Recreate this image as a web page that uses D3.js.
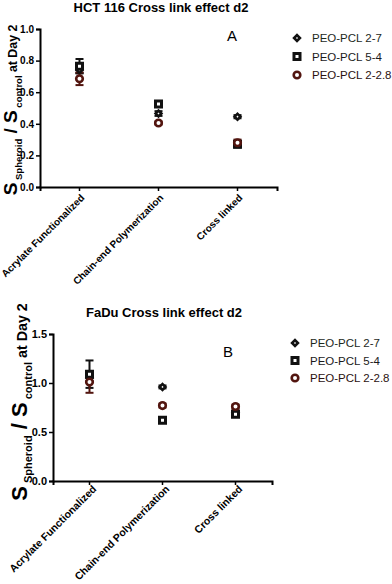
<!DOCTYPE html>
<html>
<head>
<meta charset="utf-8">
<script src="https://cdn.jsdelivr.net/npm/d3@7"></script>
<style>
  body { margin: 0; background: #fff; }
  svg { display: block; font-family: "Liberation Sans", Arial, sans-serif; }
</style>
</head>
<body>
<svg id="chart" width="392" height="584"></svg>
<script>
const categories = ["Acrylate Functionalized", "Chain-end Polymerization", "Cross linked"];
const seriesNames = ["PEO-PCL 2-7", "PEO-PCL 5-4", "PEO-PCL 2-2.8"];

// HCT 116 (panel A) - mean and error
const hct27 = [0.74, 0.465, 0.445];
const hct27Err = [0.02, 0.015, 0.01];
const hct54 = [0.765, 0.525, 0.27];
const hct54Err = [0.045, 0.01, 0.02];
const hct228 = [0.685, 0.405, 0.28];
const hct228Err = [0.04, 0.01, 0.02];
const hctTicks = [0, 0.2, 0.4, 0.6, 0.8, 1.0];

// FaDu (panel B) - mean and error
const fadu27 = [1.05, 0.96, 0.70];
const fadu27Err = [0.03, 0.015, 0.02];
const fadu54 = [1.09, 0.62, 0.68];
const fadu54Err = [0.14, 0.02, 0.02];
const fadu228 = [1.01, 0.77, 0.76];
const fadu228Err = [0.11, 0.02, 0.02];
const faduTicks = [0, 0.5, 1.0, 1.5];

const seriesColors = ["#111", "#111", "#52150f"];
const legendColors = ["#1c281c", "#1a1a1a", "#2b1210"];

const svg = d3.select("#chart");

function marker(g, kind, x, y) {
  if (kind === 0) {
    g.append("path")
      .attr("d", d3.symbol(d3.symbolSquare, 17)())
      .attr("transform", `translate(${x},${y}) rotate(45)`)
      .attr("fill", "#fff").attr("stroke", seriesColors[0]).attr("stroke-width", 2.6);
  } else if (kind === 1) {
    g.append("path")
      .attr("d", d3.symbol(d3.symbolSquare, 36)())
      .attr("transform", `translate(${x},${y})`)
      .attr("fill", "#fff").attr("stroke", seriesColors[1]).attr("stroke-width", 3);
  } else {
    g.append("circle")
      .attr("cx", x).attr("cy", y).attr("r", 3.3)
      .attr("fill", "#fff").attr("stroke", seriesColors[2]).attr("stroke-width", 2.6);
  }
}

function drawPanel(p) {
  const x = d3.scaleBand().domain(categories).range([p.left, p.right]).padding(0);
  const y = d3.scaleLinear().domain([0, p.yMax]).range([p.bottom, p.top]);

  // title
  svg.append("text")
    .attr("x", p.titleX).attr("y", p.titleY)
    .attr("text-anchor", "middle")
    .attr("font-weight", "bold").attr("font-size", 13)
    .text(p.title);

  // axes
  const yAxis = svg.append("g")
    .attr("transform", `translate(${p.left},0)`)
    .call(d3.axisLeft(y).tickValues(p.ticks).tickFormat(d3.format(".1f"))
      .tickSizeOuter(0).tickSize(4).tickPadding(2));
  yAxis.select(".domain").attr("stroke-width", 2);
  yAxis.selectAll(".tick line").attr("stroke-width", 1.5);
  yAxis.selectAll(".tick text")
    .attr("font-family", "Liberation Sans, Arial, sans-serif")
    .attr("font-weight", "bold").attr("font-size", p.tickFont).attr("fill", "#000");

  const xAxis = svg.append("g")
    .attr("transform", `translate(0,${p.bottom})`)
    .call(d3.axisBottom(x).tickSizeOuter(0).tickSize(4));
  xAxis.select(".domain").attr("stroke-width", 2);
  xAxis.selectAll(".tick line").attr("stroke-width", 1.5);
  xAxis.selectAll(".tick text")
    .attr("font-family", "Liberation Sans, Arial, sans-serif")
    .attr("font-weight", "bold").attr("font-size", p.catFont).attr("fill", "#000")
    .attr("text-anchor", "end")
    .attr("x", 0).attr("y", 0).attr("dy", "0.35em")
    .attr("transform", `translate(${p.catDx},${p.catDy}) rotate(-45)`);

  // y label
  const s = p.labelScale;
  const lab = svg.append("text")
    .attr("transform", `translate(${p.labelX},${p.labelY}) rotate(-90)`)
    .attr("text-anchor", "middle")
    .attr("font-weight", "bold");
  lab.append("tspan").attr("font-size", 20 * s).text("S");
  lab.append("tspan").attr("font-size", 10 * s).attr("dy", 5).text(" Spheroid");
  lab.append("tspan").attr("font-size", 20 * s).attr("dy", -5).text(" / S");
  lab.append("tspan").attr("font-size", 10 * s).attr("dy", 5).text(" control");
  lab.append("tspan").attr("font-size", 13 * s).attr("dy", -5).text(" at Day 2");

  // panel letter
  svg.append("text")
    .attr("x", p.letterX).attr("y", p.letterY)
    .attr("text-anchor", "middle").attr("font-size", 15)
    .text(p.letter);

  // error bars then markers
  const g = svg.append("g");
  p.series.forEach((ser, k) => {
    categories.forEach((c, i) => {
      const cx = x(c) + x.bandwidth() / 2;
      const lo = y(ser.mean[i] - ser.err[i]);
      const hi = y(ser.mean[i] + ser.err[i]);
      g.append("line").attr("x1", cx).attr("x2", cx).attr("y1", lo).attr("y2", hi)
        .attr("stroke", seriesColors[k]).attr("stroke-width", 2);
      [lo, hi].forEach(v => g.append("line")
        .attr("x1", cx - 4).attr("x2", cx + 4).attr("y1", v).attr("y2", v)
        .attr("stroke", seriesColors[k]).attr("stroke-width", 2));
    });
  });
  p.series.forEach((ser, k) => {
    categories.forEach((c, i) => {
      marker(g, k, x(c) + x.bandwidth() / 2, y(ser.mean[i]));
    });
  });

  // legend
  const leg = svg.append("g");
  seriesNames.forEach((name, k) => {
    const ly = p.legendY + k * p.legendStep;
    marker(leg, k, p.legendX, ly);
    leg.append("text")
      .attr("x", p.legendX + 15).attr("y", ly).attr("dy", "0.35em")
      .attr("font-size", 11.5).attr("fill", legendColors[k])
      .text(name);
  });
}

drawPanel({
  title: "HCT 116 Cross link effect d2", titleX: 161, titleY: 12,
  left: 40, right: 277, top: 29, bottom: 187, yMax: 1.0, ticks: hctTicks,
  tickFont: 10, catFont: 10, catDx: 3, catDy: 9,
  labelX: 17, labelY: 110, labelScale: 0.95,
  letter: "A", letterX: 232, letterY: 41,
  legendX: 297, legendY: 38, legendStep: 18.5,
  series: [
    { mean: hct27, err: hct27Err },
    { mean: hct54, err: hct54Err },
    { mean: hct228, err: hct228Err }
  ]
});

drawPanel({
  title: "FaDu Cross link effect d2", titleX: 164, titleY: 317,
  left: 53, right: 272, top: 334, bottom: 481, yMax: 1.5, ticks: faduTicks,
  tickFont: 11, catFont: 10.5, catDx: 5, catDy: 6,
  labelX: 27, labelY: 402, labelScale: 1.1,
  letter: "B", letterX: 228, letterY: 357,
  legendX: 295, legendY: 343, legendStep: 17.5,
  series: [
    { mean: fadu27, err: fadu27Err },
    { mean: fadu54, err: fadu54Err },
    { mean: fadu228, err: fadu228Err }
  ]
});
</script>
</body>
</html>
